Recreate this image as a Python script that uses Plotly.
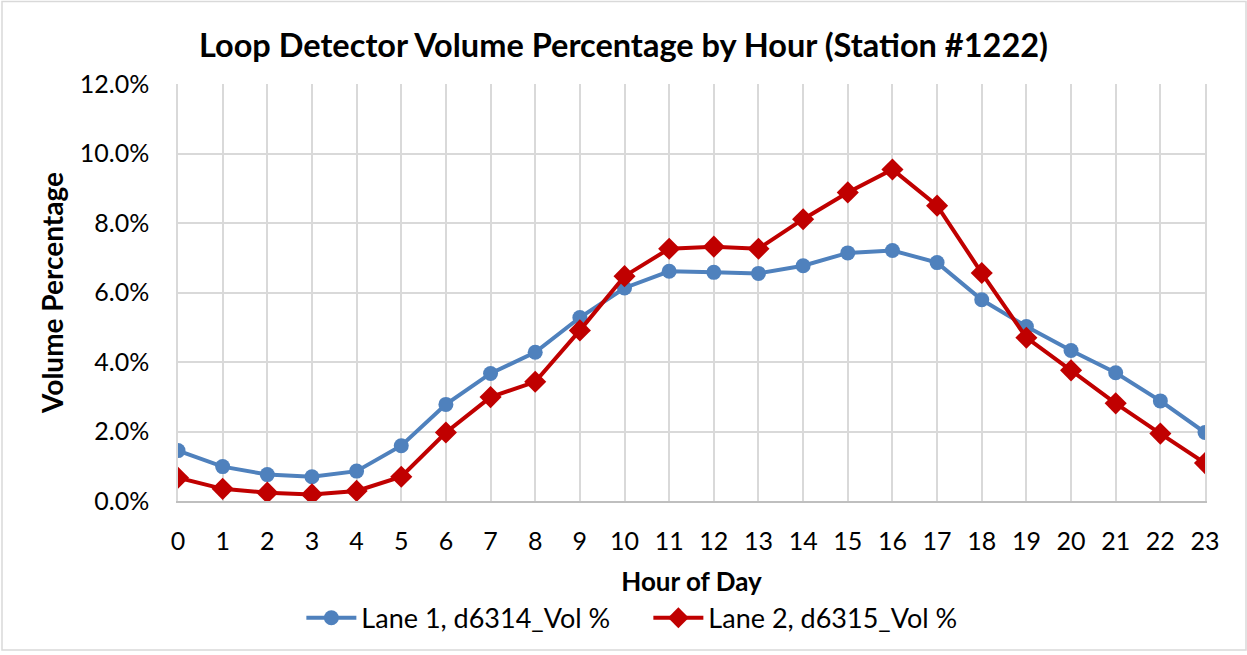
"""Loop detector hourly volume percentage chart for station #1222."""
import plotly.graph_objects as go

# ------------------------------------------------------------------ data

HOURS = list(range(24))

LANE1_LABEL = "Lane 1, d6314_Vol %"
LANE1_PCT = [1.45, 0.99, 0.76, 0.70, 0.86, 1.59, 2.78, 3.67, 4.28, 5.28, 6.13, 6.61,
             6.58, 6.55, 6.77, 7.14, 7.21, 6.86, 5.79, 5.02, 4.33, 3.69, 2.88, 1.97]

LANE2_LABEL = "Lane 2, d6315_Vol %"
LANE2_PCT = [0.67, 0.35, 0.24, 0.19, 0.29, 0.70, 1.97, 2.99, 3.43, 4.91, 6.47, 7.26,
             7.32, 7.26, 8.11, 8.88, 9.54, 8.50, 6.56, 4.70, 3.76, 2.81, 1.94, 1.09]

Y_TICKS = [0, 2, 4, 6, 8, 10, 12]
Y_TICK_TEXT = [f"{v:.1f}%" for v in Y_TICKS]

FONT = "Lato"
BLUE = "#4F81BD"
RED = "#C00000"
GRID = "#D9D9D9"

# ------------------------------------------------------------------ chart

fig = go.Figure()
fig.add_trace(go.Scatter(
    x=HOURS, y=LANE1_PCT, name=LANE1_LABEL, mode="lines+markers",
    line=dict(color=BLUE, width=4),
    marker=dict(symbol="circle", size=15, color=BLUE),
))
fig.add_trace(go.Scatter(
    x=HOURS, y=LANE2_PCT, name=LANE2_LABEL, mode="lines+markers",
    line=dict(color=RED, width=4),
    marker=dict(symbol="diamond", size=17, color=RED),
))

fig.update_layout(
    width=1247,
    height=655,
    paper_bgcolor="white",
    plot_bgcolor="white",
    font=dict(family=FONT, size=25, color="black"),
    margin=dict(l=178, r=42, t=84, b=151),
    title=dict(
        text="<b>Loop Detector Volume Percentage by Hour (Station #1222)</b>",
        x=0.5, xanchor="center", y=0.931, yanchor="middle",
        font=dict(size=32.5),
    ),
    xaxis=dict(
        range=[0, 23],
        tickmode="array", tickvals=HOURS, ticktext=[str(h) for h in HOURS],
        showgrid=True, gridcolor=GRID, gridwidth=1.5,
        showline=True, linecolor="#BFBFBF", linewidth=1.5,
        zeroline=False, ticks="", ticklabelstandoff=17,
        title=dict(text="<b>Hour of Day</b>", font=dict(size=26), standoff=19),
    ),
    yaxis=dict(
        range=[0, 12],
        tickmode="array", tickvals=Y_TICKS, ticktext=Y_TICK_TEXT,
        showgrid=True, gridcolor=GRID, gridwidth=1.5,
        showline=True, linecolor=GRID, linewidth=1.5, mirror=True,
        zeroline=False, ticks="", ticklabelstandoff=22,
        title=dict(text="<b>Volume Percentage</b>", font=dict(size=28), standoff=8),
    ),
    legend=dict(
        orientation="h", x=0.458, xanchor="center", y=-0.281, yanchor="middle",
        font=dict(size=27), itemwidth=50, tracegroupgap=0,
        entrywidth=282, entrywidthmode="pixels",
    ),
    showlegend=True,
)

# outer chart border like a spreadsheet chart area
fig.add_shape(
    type="rect", xref="paper", yref="paper",
    x0=-176 / 1027, x1=(1027 + 41) / 1027, y0=-150 / 420, y1=(420 + 83) / 420,
    line=dict(color="#D9D9D9", width=1.5), fillcolor="rgba(0,0,0,0)", layer="below",
)

# drop the default page margin so the figure sits at the window origin
fig.write_html(
    "out.html",
    config={"displayModeBar": False},
    post_script="document.body.style.margin='0';",
)
